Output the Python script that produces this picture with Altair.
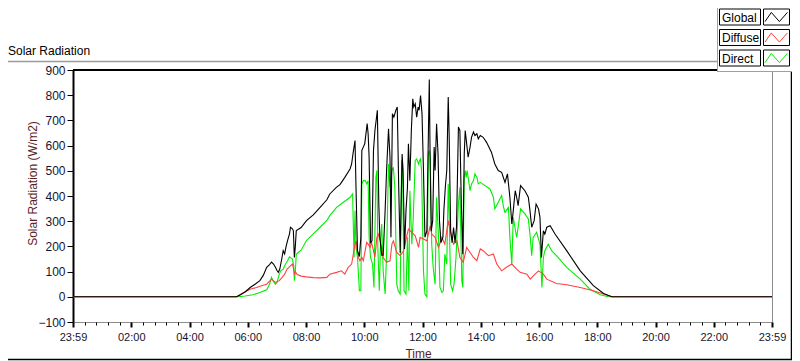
import altair as alt
import pandas as pd

# ---------------- data (minutes after midnight, W/m2) ----------------
SERIES = ["Global", "Diffuse", "Direct"]
COLORS = {"Global": "#000000", "Diffuse": "#ff4040", "Direct": "#00ee00"}

GLOBAL = [(0,0),(337,0),(345,8),(355,20),(365,37),(375,50),(385,64),(392,85),(399,117),(405,128),
 (409,138),(413,130),(417,117),(420,105),(423,97),(426,110),(430,150),(433,183),(436,170),(439,200),
 (442,223),(446,250),(448,276),(452,270),(454,262),(456,156),(458,200),(460,263),(470,275),(481,302),
 (495,325),(509,355),(523,385),(529,408),(543,435),(550,445),(560,474),(571,508),(574,527),(577,570),
 (581,620),(583,435),(586,183),(590,160),(593,236),(595,580),(598,594),(601,607),(606,687),(608,647),
 (610,554),(613,215),(616,222),(619,580),(622,660),(627,740),(630,368),(632,240),(636,165),(639,165),
 (643,342),(646,501),(650,667),(653,554),(655,236),(658,726),(661,713),(665,740),(668,753),(671,435),
 (674,175),(676,368),(678,567),(680,501),(683,190),(686,342),(689,435),(691,607),(694,461),(697,660),
 (700,786),(702,753),(705,766),(708,713),(711,753),(713,740),(716,799),(719,726),(722,501),(725,236),
 (729,262),(732,633),(734,862),(736,501),(738,260),(741,302),(744,594),(746,501),(749,687),(752,567),
 (755,302),(758,215),(762,236),(764,342),(767,435),(770,501),(773,793),(775,633),(778,262),(781,215),
 (784,275),(787,215),(790,275),(794,674),(797,660),(800,368),(803,169),(806,567),(808,660),(811,607),
 (814,554),(818,594),(821,633),(825,654),(828,640),(832,647),(835,627),(839,640),(845,633),(852,613),
 (862,574),(869,527),(876,501),(883,494),(890,454),(895,488),(900,395),(904,289),(907,342),(911,421),
 (914,395),(917,362),(922,441),(931,421),(938,395),(941,349),(945,276),(950,302),(954,368),(959,349),
 (962,315),(965,156),(969,262),(972,249),(976,276),(983,282),(993,249),(1017,183),(1045,103),(1072,44),
 (1093,13),(1110,0),(1440,0)]

DIFFUSE = [(0,0),(337,0),(350,15),(365,30),(378,37),(390,45),(399,50),(405,62),(409,70),(413,63),
 (418,57),(425,64),(430,75),(436,90),(441,110),(448,123),(452,130),(454,115),(456,90),(458,100),
 (462,88),(470,82),(481,79),(495,76),(509,75),(523,77),(529,90),(543,97),(553,103),(560,90),
 (567,117),(574,130),(581,209),(583,222),(588,156),(591,143),(595,156),(598,143),(605,216),(608,209),
 (612,196),(615,216),(619,183),(622,156),(626,236),(629,249),(633,222),(639,156),(646,137),(653,143),
 (657,209),(660,222),(667,176),(674,163),(681,183),(687,236),(691,269),(698,256),(705,242),(712,196),
 (715,236),(722,229),(729,222),(736,282),(739,249),(746,236),(753,196),(760,236),(766,209),(773,302),
 (777,262),(784,209),(791,222),(797,156),(804,137),(811,196),(818,176),(825,156),(832,143),(839,190),
 (845,183),(856,163),(866,170),(873,130),(883,103),(893,117),(904,130),(914,110),(921,97),(935,90),
 (942,70),(952,90),(959,103),(969,90),(976,70),(996,53),(1017,48),(1045,37),(1072,24),(1093,11),
 (1110,0),(1440,0)]

DIRECT = [(0,0),(340,0),(355,3),(370,8),(385,17),(399,28),(405,50),(409,77),(413,60),(417,50),
 (420,55),(425,90),(428,103),(433,110),(438,130),(442,143),(446,159),(452,150),(455,120),(456,64),
 (458,100),(460,170),(470,185),(481,223),(495,250),(509,276),(523,303),(529,322),(543,355),(557,375),
 (571,395),(576,408),(579,156),(581,342),(583,196),(586,156),(590,24),(593,24),(595,448),(598,461),
 (602,461),(605,448),(608,461),(610,236),(613,156),(617,130),(620,37),(624,474),(626,501),(628,196),
 (631,24),(634,236),(636,289),(639,103),(643,11),(646,169),(650,527),(653,435),(657,501),(660,514),
 (663,435),(667,50),(670,24),(674,11),(677,541),(679,501),(682,24),(686,11),(689,236),(692,24),
 (694,421),(698,209),(701,315),(705,541),(708,547),(712,527),(714,541),(716,547),(718,501),(722,103),
 (725,11),(729,0),(732,567),(734,580),(736,554),(739,209),(742,116),(746,50),(749,395),(753,236),
 (756,37),(760,17),(763,24),(766,169),(770,130),(773,448),(775,315),(778,50),(782,24),(785,50),
 (789,156),(794,368),(797,435),(801,64),(803,37),(806,474),(808,501),(810,474),(812,501),(815,461),
 (818,421),(821,448),(825,461),(828,488),(832,474),(835,448),(839,454),(849,441),(859,428),(866,395),
 (869,349),(876,375),(883,402),(887,355),(890,335),(897,355),(900,236),(904,130),(907,315),(911,269),
 (914,236),(918,289),(922,349),(931,329),(938,309),(942,236),(945,163),(948,236),(955,256),(959,229),
 (962,209),(966,37),(969,156),(972,183),(979,209),(986,183),(996,163),(1017,117),(1045,70),(1065,30),
 (1086,8),(1103,0),(1440,0)]

Y_TICKS = [-100, 0, 100, 200, 300, 400, 500, 600, 700, 800, 900]
X_TICKS = list(range(0, 1441, 24))  # every 24 min; labels every 2 h

FONT = "Liberation Sans"
W, H = 699, 252

xscale = alt.Scale(domain=[0, 1440], nice=False, zero=False)
yscale = alt.Scale(domain=[-100, 900], nice=False, zero=False)

label_expr = ("datum.value % 120 === 0 ? ((datum.value === 0 || datum.value === 1440) ? '23:59' : "
              "(datum.value < 600 ? '0' : '') + (datum.value / 60) + ':00') : ''")

xaxis = alt.Axis(
    values=X_TICKS, labelExpr=label_expr, labelOverlap=False, labelFlush=False,
    tickSize={"condition": {"test": "datum.value % 120 === 0", "value": 5}, "value": 3},
    tickWidth={"condition": {"test": "datum.value % 120 === 0", "value": 2}, "value": 1},
    tickColor="#000000", domain=False, grid=False,
    labelFont=FONT, labelFontSize=11, labelColor="#141432", labelPadding=4,
    title="Time", titleFont=FONT, titleFontSize=12, titleFontWeight="normal",
    titleColor="#5a1e1e", titleX=345, titleY=35.5, titleAlign="center", titleBaseline="alphabetic",
)
yaxis = alt.Axis(
    values=Y_TICKS, tickSize=6, tickWidth=1, tickColor="#000000",
    domain=True, domainColor="#000000", domainWidth=2, grid=False,
    labelFont=FONT, labelFontSize=12, labelColor="#141432", labelPadding=2,
    title="Solar Radiation (W/m2)", titleFont=FONT, titleFontSize=12, titleFontWeight="normal",
    titleColor="#5a1e1e", titleAngle=270, titleX=-41, titleY=113,
    titleAlign="center", titleBaseline="middle",
)

def series_layer(name, pts):
    df = pd.DataFrame(pts, columns=["t", "v"])
    return alt.Chart(df).mark_line(color=COLORS[name], strokeWidth=1.1).encode(
        x=alt.X("t:Q", scale=xscale, axis=xaxis),
        y=alt.Y("v:Q", scale=yscale, axis=yaxis),
    )

layers = [series_layer("Direct", DIRECT), series_layer("Diffuse", DIFFUSE), series_layer("Global", GLOBAL)]

dummy = pd.DataFrame({"d": [0]})

def rule(x1, x2, y1, y2, color, w):
    return alt.Chart(dummy).mark_rule(color=color, strokeWidth=w).encode(
        x=alt.value(x1), x2=alt.value(x2), y=alt.value(y1), y2=alt.value(y2))

def rect(x1, x2, y1, y2, fill, stroke=None):
    kw = dict(fill=fill)
    if stroke:
        kw.update(stroke=stroke, strokeWidth=1)
    return alt.Chart(dummy).mark_rect(**kw).encode(
        x=alt.value(x1), x2=alt.value(x2), y=alt.value(y1), y2=alt.value(y2))

# plot frame top (black) and outer panel frame
layers.append(rule(0, 644, 0, 0, "#000000", 2))
layers.append(rule(-65, 644, -8.5, -8.5, "#9a9a9a", 1.5))
layers.append(rule(-65, 720, 289.5, 289.5, "#000000", 1.5))
layers.append(rule(718.5, 718.5, 2, 290, "#000000", 1.5))

# chart caption
layers.append(alt.Chart(dummy).mark_text(
    text="Solar Radiation", font=FONT, fontSize=12, color="#000000", align="left", baseline="middle"
).encode(x=alt.value(-65), y=alt.value(-19)))

# legend panel
layers.append(rect(644, 720, -70, 2, "#ffffff"))
layers.append(rule(644.5, 644.5, -70, 2, "#a0a0a0", 1))
layers.append(rule(644, 720, 1.5, 1.5, "#a0a0a0", 1))

ZIG = "M-1,0.4L-0.45,-0.4L0.25,0.4L0.95,-0.4"
row_centers = [-53, -32.5, -12]
for name, yc in zip(SERIES, row_centers):
    layers.append(rect(646.5, 687.5, yc - 8, yc + 8, "#ffffff", "#000000"))
    layers.append(rect(690.5, 716.5, yc - 8, yc + 8, "#ffffff", "#000000"))
    layers.append(alt.Chart(dummy).mark_text(
        text=name, font=FONT, fontSize=12, color="#000000", align="left", baseline="middle"
    ).encode(x=alt.value(649), y=alt.value(yc + 0.5)))
    layers.append(alt.Chart(dummy).mark_point(
        shape=ZIG, filled=False, size=529, stroke=COLORS[name], strokeWidth=1, opacity=1
    ).encode(x=alt.value(703.5), y=alt.value(yc)))

chart = alt.layer(*layers).properties(
    width=W, height=H, autosize="none",
    padding={"left": 65, "top": 62, "right": 20, "bottom": 39},
    background="#ffffff",
).configure_view(stroke="#8c8c8c", strokeWidth=1)

chart.save("out.html", embed_options={"renderer": "svg", "actions": False})
